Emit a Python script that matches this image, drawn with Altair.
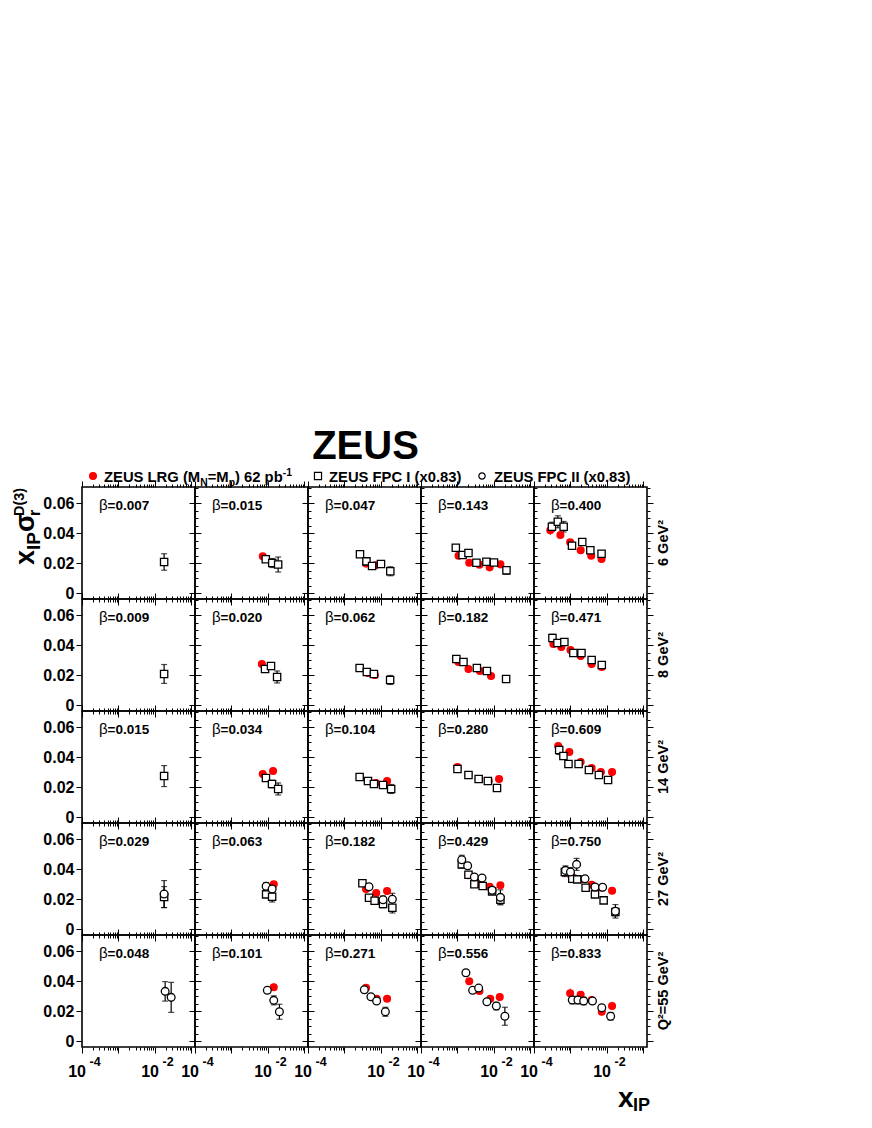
import altair as alt
import pandas as pd

FONT = "Liberation Sans"

ROW_LABELS = ["6 GeV²", "8 GeV²", "14 GeV²", "27 GeV²", "Q²=55 GeV²"]
BETA = [
    ["0.007", "0.015", "0.047", "0.143", "0.400"],
    ["0.009", "0.020", "0.062", "0.182", "0.471"],
    ["0.015", "0.034", "0.104", "0.280", "0.609"],
    ["0.029", "0.063", "0.182", "0.429", "0.750"],
    ["0.048", "0.101", "0.271", "0.556", "0.833"],
]

# (column, x_IP, x_IP*sigma_r^D(3), error)
LRG_Q6 = [
    (1, 0.0072, 0.0245, 0.0010),
    (2, 0.0039, 0.0196, 0.0010), (2, 0.0071, 0.0185, 0.0010),
    (3, 0.00107, 0.0249, 0.0010), (3, 0.0021, 0.0202, 0.0010), (3, 0.0040, 0.0189, 0.0010),
    (3, 0.0076, 0.0171, 0.0010), (3, 0.015, 0.0191, 0.0010),
    (4, 0.00028, 0.0418, 0.0030), (4, 0.00053, 0.0387, 0.0015), (4, 0.00098, 0.0338, 0.0012),
    (4, 0.0019, 0.0285, 0.0010), (4, 0.0037, 0.0249, 0.0010), (4, 0.0071, 0.0227, 0.0010),
]
FPC1_Q6 = [
    (0, 0.0178, 0.0207, 0.0055),
    (1, 0.0087, 0.0225, 0.0015), (1, 0.0131, 0.0200, 0.0030), (1, 0.0190, 0.0190, 0.0050),
    (2, 0.00266, 0.0258, 0.0010), (2, 0.0040, 0.0211, 0.0012), (2, 0.0057, 0.0180, 0.0010),
    (2, 0.0100, 0.0193, 0.0012), (2, 0.0180, 0.0145, 0.0030),
    (3, 0.00090, 0.0302, 0.0012), (3, 0.00138, 0.0253, 0.0010), (3, 0.0020, 0.0267, 0.0012),
    (3, 0.0033, 0.0202, 0.0010), (3, 0.0062, 0.0209, 0.0010), (3, 0.0100, 0.0204, 0.0010),
    (3, 0.0220, 0.0151, 0.0025),
    (4, 0.00031, 0.0442, 0.0030), (4, 0.00045, 0.0475, 0.0040), (4, 0.00065, 0.0442, 0.0035),
    (4, 0.0011, 0.0315, 0.0015), (4, 0.0021, 0.0340, 0.0020), (4, 0.0035, 0.0285, 0.0020),
    (4, 0.0071, 0.0262, 0.0020),
]
FPC2_Q6 = []

LRG_Q8 = [
    (1, 0.0068, 0.0273, 0.0010),
    (2, 0.0044, 0.0213, 0.0010), (2, 0.0068, 0.0200, 0.0010),
    (3, 0.00106, 0.0287, 0.0010), (3, 0.0020, 0.0240, 0.0010), (3, 0.0041, 0.0227, 0.0010),
    (3, 0.0083, 0.0193, 0.0010),
    (4, 0.00034, 0.0407, 0.0020), (4, 0.00056, 0.0387, 0.0015), (4, 0.0010, 0.0367, 0.0012),
    (4, 0.0019, 0.0327, 0.0010), (4, 0.0038, 0.0273, 0.0010), (4, 0.0072, 0.0253, 0.0010),
]
FPC1_Q8 = [
    (0, 0.0178, 0.0207, 0.0063),
    (1, 0.0083, 0.0240, 0.0020), (1, 0.0121, 0.0260, 0.0020), (1, 0.0178, 0.0187, 0.0040),
    (2, 0.0026, 0.0247, 0.0010), (2, 0.0041, 0.0220, 0.0010), (2, 0.0064, 0.0207, 0.0010),
    (2, 0.0178, 0.0167, 0.0030),
    (3, 0.00093, 0.0307, 0.0012), (3, 0.00146, 0.0287, 0.0010), (3, 0.0034, 0.0247, 0.0010),
    (3, 0.0064, 0.0227, 0.0010), (3, 0.0215, 0.0173, 0.0020),
    (4, 0.00032, 0.0447, 0.0025), (4, 0.00044, 0.0413, 0.0020), (4, 0.00068, 0.0420, 0.0020),
    (4, 0.0012, 0.0347, 0.0012), (4, 0.0020, 0.0347, 0.0015), (4, 0.0038, 0.0300, 0.0015),
    (4, 0.0072, 0.0267, 0.0015),
]
FPC2_Q8 = []

LRG_Q14 = [
    (1, 0.0072, 0.0287, 0.0010), (1, 0.0138, 0.0307, 0.0020),
    (2, 0.0044, 0.0240, 0.0010), (2, 0.0072, 0.0227, 0.0010), (2, 0.0147, 0.0240, 0.0010),
    (3, 0.0010, 0.0333, 0.0010), (3, 0.0020, 0.0280, 0.0010), (3, 0.0038, 0.0253, 0.0010),
    (3, 0.0072, 0.0240, 0.0010), (3, 0.0138, 0.0253, 0.0010),
    (4, 0.00046, 0.0473, 0.0020), (4, 0.00093, 0.0433, 0.0015), (4, 0.0019, 0.0367, 0.0012),
    (4, 0.0038, 0.0327, 0.0010), (4, 0.0068, 0.0300, 0.0010), (4, 0.0138, 0.0300, 0.0010),
]
FPC1_Q14 = [
    (0, 0.0178, 0.0273, 0.0070),
    (1, 0.0088, 0.0260, 0.0015), (1, 0.0129, 0.0220, 0.0025), (1, 0.0190, 0.0187, 0.0040),
    (2, 0.0026, 0.0267, 0.0010), (2, 0.0044, 0.0240, 0.0010), (2, 0.0064, 0.0220, 0.0010),
    (2, 0.0114, 0.0213, 0.0012), (2, 0.0190, 0.0187, 0.0030),
    (3, 0.0010, 0.0320, 0.0012), (3, 0.0020, 0.0280, 0.0010), (3, 0.0038, 0.0253, 0.0010),
    (3, 0.0068, 0.0240, 0.0010), (3, 0.0121, 0.0193, 0.0012),
    (4, 0.00049, 0.0447, 0.0030), (4, 0.00064, 0.0407, 0.0020), (4, 0.00088, 0.0353, 0.0015),
    (4, 0.00167, 0.0353, 0.0012), (4, 0.0032, 0.0313, 0.0015), (4, 0.0060, 0.0280, 0.0012),
    (4, 0.0107, 0.0247, 0.0012),
]
FPC2_Q14 = []

LRG_Q27 = [
    (1, 0.0144, 0.0298, 0.0010),
    (2, 0.0039, 0.0267, 0.0010), (2, 0.0074, 0.0240, 0.0010), (2, 0.0147, 0.0253, 0.0010),
    (3, 0.0020, 0.0358, 0.0010), (3, 0.0040, 0.0300, 0.0010), (3, 0.0076, 0.0282, 0.0010),
    (3, 0.0150, 0.0291, 0.0010),
    (4, 0.00102, 0.0362, 0.0012), (4, 0.0019, 0.0331, 0.0010), (4, 0.0038, 0.0295, 0.0010),
    (4, 0.0072, 0.0275, 0.0010), (4, 0.0138, 0.0255, 0.0010),
]
FPC1_Q27 = [
    (0, 0.0178, 0.0213, 0.0070),
    (1, 0.0089, 0.0231, 0.0020), (1, 0.0130, 0.0215, 0.0035),
    (2, 0.0031, 0.0305, 0.0012), (2, 0.0047, 0.0209, 0.0012), (2, 0.0067, 0.0189, 0.0020),
    (2, 0.0114, 0.0167, 0.0025), (2, 0.0205, 0.0142, 0.0035),
    (3, 0.00131, 0.0431, 0.0025), (3, 0.0020, 0.0362, 0.0015), (3, 0.0029, 0.0298, 0.0012),
    (3, 0.0049, 0.0287, 0.0012), (3, 0.0089, 0.0251, 0.0015), (3, 0.0150, 0.0195, 0.0030),
    (4, 0.00070, 0.0380, 0.0030), (4, 0.00112, 0.0335, 0.0025), (4, 0.00153, 0.0331, 0.0020),
    (4, 0.0026, 0.0275, 0.0015), (4, 0.0047, 0.0231, 0.0020), (4, 0.0081, 0.0191, 0.0020),
    (4, 0.0170, 0.0113, 0.0025),
]
FPC2_Q27 = [
    (0, 0.0178, 0.0233, 0.0090),
    (1, 0.0089, 0.0285, 0.0025), (1, 0.0130, 0.0267, 0.0020),
    (2, 0.0047, 0.0282, 0.0012), (2, 0.0114, 0.0195, 0.0025), (2, 0.0205, 0.0198, 0.0040),
    (3, 0.00131, 0.0462, 0.0030), (3, 0.0019, 0.0422, 0.0020), (3, 0.0029, 0.0347, 0.0015),
    (3, 0.0047, 0.0340, 0.0015), (3, 0.0089, 0.0258, 0.0020), (3, 0.0150, 0.0211, 0.0050),
    (4, 0.00073, 0.0391, 0.0030), (4, 0.0010, 0.0380, 0.0030), (4, 0.00147, 0.0431, 0.0040),
    (4, 0.0025, 0.0335, 0.0020), (4, 0.0047, 0.0280, 0.0015), (4, 0.0076, 0.0278, 0.0015),
    (4, 0.0170, 0.0118, 0.0045),
]

LRG_Q55 = [
    (1, 0.0144, 0.0358, 0.0025),
    (2, 0.0039, 0.0355, 0.0010), (2, 0.0076, 0.0282, 0.0010), (2, 0.0147, 0.0282, 0.0015),
    (3, 0.0021, 0.0398, 0.0015), (3, 0.0040, 0.0333, 0.0010), (3, 0.0079, 0.0282, 0.0010),
    (3, 0.0144, 0.0293, 0.0010),
    (4, 0.00098, 0.0318, 0.0030), (4, 0.0019, 0.0309, 0.0012), (4, 0.0038, 0.0273, 0.0010),
    (4, 0.0072, 0.0195, 0.0010), (4, 0.0138, 0.0233, 0.0010),
]
FPC1_Q55 = []
FPC2_Q55 = [
    (0, 0.0190, 0.0331, 0.0065), (0, 0.0278, 0.0291, 0.0100),
    (1, 0.0096, 0.0338, 0.0020), (1, 0.0144, 0.0271, 0.0030), (1, 0.0206, 0.0195, 0.0050),
    (2, 0.0035, 0.0342, 0.0010), (2, 0.0053, 0.0295, 0.0010), (2, 0.0076, 0.0267, 0.0012),
    (2, 0.0132, 0.0195, 0.0030),
    (3, 0.0017, 0.0455, 0.0020), (3, 0.0026, 0.0338, 0.0012), (3, 0.0038, 0.0353, 0.0012),
    (3, 0.0064, 0.0262, 0.0012), (3, 0.0116, 0.0233, 0.0025), (3, 0.0199, 0.0165, 0.0060),
    (4, 0.00112, 0.0273, 0.0025), (4, 0.0016, 0.0273, 0.0025), (4, 0.0023, 0.0267, 0.0025),
    (4, 0.0040, 0.0267, 0.0020), (4, 0.0072, 0.0222, 0.0015), (4, 0.0126, 0.0165, 0.0025),
]

SERIES = ["LRG", "FPC I", "FPC II"]
ROWS_DATA = [
    (LRG_Q6, FPC1_Q6, FPC2_Q6),
    (LRG_Q8, FPC1_Q8, FPC2_Q8),
    (LRG_Q14, FPC1_Q14, FPC2_Q14),
    (LRG_Q27, FPC1_Q27, FPC2_Q27),
    (LRG_Q55, FPC1_Q55, FPC2_Q55),
]

recs = []
for r, triple in enumerate(ROWS_DATA):
    for s, lst in zip(SERIES, triple):
        for c, x, v, e in lst:
            recs.append(dict(row=r, col=c, xip=x, val=v, lo=v - e, hi=v + e, series=s))
df = pd.DataFrame(recs)

W, H = 113, 112
TITLE_W = 73
XDOM = [1e-4, 0.125]
YDOM = [-0.004, 0.0707]

X_TICKS = [round(k * 10.0 ** n, 10) for n in range(-4, 0) for k in range(1, 10) if k * 10.0 ** n <= 0.125]
Y_MAJOR = [0, 0.02, 0.04, 0.06]
Y_TICKS = [round(i * 0.005, 4) for i in range(0, 15)]
X_TS = {"condition": {"test": "indexof([0.0001,0.001,0.01,0.1], datum.value) >= 0", "value": 6}, "value": 3}
Y_TS = {"condition": {"test": "indexof([0,0.02,0.04,0.06], datum.value) >= 0", "value": 6}, "value": 3}

xsc = alt.Scale(type="log", domain=XDOM, nice=False)
ysc = alt.Scale(domain=YDOM, nice=False, zero=False)
col_sc = alt.Scale(domain=SERIES, range=["#ff0000", "black", "black"])
fill_sc = alt.Scale(domain=SERIES, range=["#ff0000", "white", "white"])
shape_sc = alt.Scale(domain=SERIES, range=["circle", "square", "circle"])
size_sc = alt.Scale(domain=SERIES, range=[46, 60, 46])

# Arial/Liberation Sans Bold advance widths (per 1000 em)
AW = {' ': 278, '(': 333, ')': 333, '=': 584, '-': 333, '.': 278, 'Z': 611, 'E': 667, 'U': 722,
      'S': 667, 'L': 611, 'R': 722, 'G': 778, 'M': 833, 'N': 722, 'F': 611, 'P': 667, 'C': 722,
      'I': 278, 'x': 556, 'p': 611, 'b': 611}


def tw(s, size):
    return sum(AW.get(ch, 556) for ch in s) * size / 1000.0


def label(text, x, y, size, weight="bold", align="left", baseline="alphabetic", angle=0, font=FONT,
          clip=False):
    return alt.Chart(pd.DataFrame({"t": [text]})).mark_text(
        align=align, baseline=baseline, fontSize=size, fontWeight=weight, font=font,
        angle=angle, color="black", clip=clip
    ).encode(x=alt.value(x), y=alt.value(y), text="t:N")


def swatch(shape, fill, stroke, x, y, size):
    return alt.Chart(pd.DataFrame({"k": [0]})).mark_point(
        shape=shape, filled=True, fill=fill, stroke=stroke, size=size, strokeWidth=1.2, opacity=1
    ).encode(x=alt.value(x), y=alt.value(y))


def legend_layers():
    out = []
    s = 14.8
    sub = s * 0.7
    y = -5
    out.append(swatch("circle", "#ff0000", "#ff0000", 11, -11, 46))
    x = 22
    pieces = [("ZEUS LRG (M", s, 0), ("N", sub, 4), ("=M", s, 0), ("p", sub, 4),
              (") 62 pb", s, 0), ("-1", sub, -6)]
    for t, fs, dy in pieces:
        out.append(label(t, x, y + dy, fs))
        x += tw(t, fs)
    out.append(swatch("square", "white", "black", 236, -11, 50))
    out.append(label("ZEUS FPC I (x0.83)", 247, y, s))
    out.append(swatch("circle", "white", "black", 400, -11, 40))
    out.append(label("ZEUS FPC II (x0.83)", 412, y, s))
    return out


def panel(r, c):
    d = df[(df.row == r) & (df.col == c)]
    base = alt.Chart(d)
    left_axis = alt.Axis(orient="left", values=Y_MAJOR, tickSize=6, labels=(c == 0), title=None,
                         labelPadding=2, labelExpr="datum.value == 0 ? '0' : format(datum.value, '.2f')")
    right_axis = alt.Axis(orient="right", values=Y_TICKS, tickSize=Y_TS, labels=False, title=None)
    bottom_axis = alt.Axis(orient="bottom", values=X_TICKS, tickSize=X_TS, labels=False, title=None)
    top_axis = alt.Axis(orient="top", values=X_TICKS, tickSize=X_TS, labels=False, title=None)

    err = base.mark_rule(strokeWidth=1.2).encode(
        x=alt.X("xip:Q", scale=xsc, axis=bottom_axis),
        y=alt.Y("lo:Q", scale=ysc, axis=left_axis),
        y2="hi:Q",
        color=alt.Color("series:N", scale=col_sc, legend=None),
    )
    fpc = base.transform_filter("datum.series != 'LRG'")
    cap_lo = fpc.mark_tick(orient="horizontal", size=6, thickness=1.2, color="black").encode(
        x=alt.X("xip:Q", scale=xsc, axis=None), y=alt.Y("lo:Q", scale=ysc, axis=None))
    cap_hi = fpc.mark_tick(orient="horizontal", size=6, thickness=1.2, color="black").encode(
        x=alt.X("xip:Q", scale=xsc, axis=None), y=alt.Y("hi:Q", scale=ysc, axis=None))
    pts = base.mark_point(filled=True, strokeWidth=1.3, opacity=1).encode(
        x=alt.X("xip:Q", scale=xsc, axis=top_axis),
        y=alt.Y("val:Q", scale=ysc, axis=right_axis),
        shape=alt.Shape("series:N", scale=shape_sc, legend=None),
        fill=alt.Fill("series:N", scale=fill_sc, legend=None),
        stroke=alt.Stroke("series:N", scale=col_sc, legend=None),
        size=alt.Size("series:N", scale=size_sc, legend=None),
    )
    layers = [err, cap_lo, cap_hi, pts]
    layers.append(label("β", 17, 23, 15, weight="normal"))
    layers.append(label("=" + BETA[r][c], 25.5, 23, 13.5))

    if c == 4:
        layers.append(label(ROW_LABELS[r], W + 17, H / 2, 14.5, align="center", baseline="middle", angle=270))
    if r == 4:
        xl = pd.DataFrame({"v": [1e-4, 1e-2], "m": ["10", "10"], "e": ["-4", "-2"]})
        lab = alt.Chart(xl)
        layers.append(lab.mark_text(align="right", dx=4, fontSize=16, fontWeight="bold", font=FONT,
                                    color="black").encode(
            x=alt.X("v:Q", scale=xsc, axis=None), y=alt.value(H + 25), text="m:N"))
        layers.append(lab.mark_text(align="left", dx=7.5, fontSize=12.5, fontWeight="bold", font=FONT,
                                    color="black").encode(
            x=alt.X("v:Q", scale=xsc, axis=None), y=alt.value(H + 15), text="e:N"))
    if r == 0 and c == 0:
        layers += legend_layers()
    if r == 0 and c == 2:
        layers.append(label("ZEUS", W / 2 + 1, -28, 40, align="center"))
    if r == 4 and c == 4:
        layers.append(label("x", 84, 172, 28))
        layers.append(label("IP", 99, 176, 18))

    return alt.layer(*layers).resolve_axis(x="independent", y="independent").properties(width=W, height=H)


# y-axis title x_IP sigma_r^D(3), rotated, in its own strip left of the grid
title_strip = alt.layer(
    label("x", 24.5, 78, 27, angle=270, clip=True),
    label("IP", 30.5, 63, 19, angle=270, clip=True),
    label("σ", 24.5, 45, 27, angle=270, clip=True),
    label("r", 30.5, 29, 16, angle=270, clip=True),
    label("D(3)", 14.5, 29, 14.5, angle=270, clip=True),
).properties(width=TITLE_W, height=5 * H, view=alt.ViewBackground(stroke="transparent"))

grid = alt.concat(*[panel(r, c) for r in range(5) for c in range(5)],
                  columns=5, spacing=0, bounds="flush")

chart = alt.hconcat(
    title_strip, grid, spacing=0, bounds="flush",
    padding={"left": 0, "top": 418, "right": 10, "bottom": 10},
).configure_view(
    stroke="black", strokeWidth=1.6
).configure_axis(
    domain=False, grid=False, tickColor="black", tickWidth=1,
    labelFont=FONT, labelFontSize=16, labelFontWeight="bold", labelColor="black",
)

chart.save("out.html", embed_options={"renderer": "svg", "actions": False})
